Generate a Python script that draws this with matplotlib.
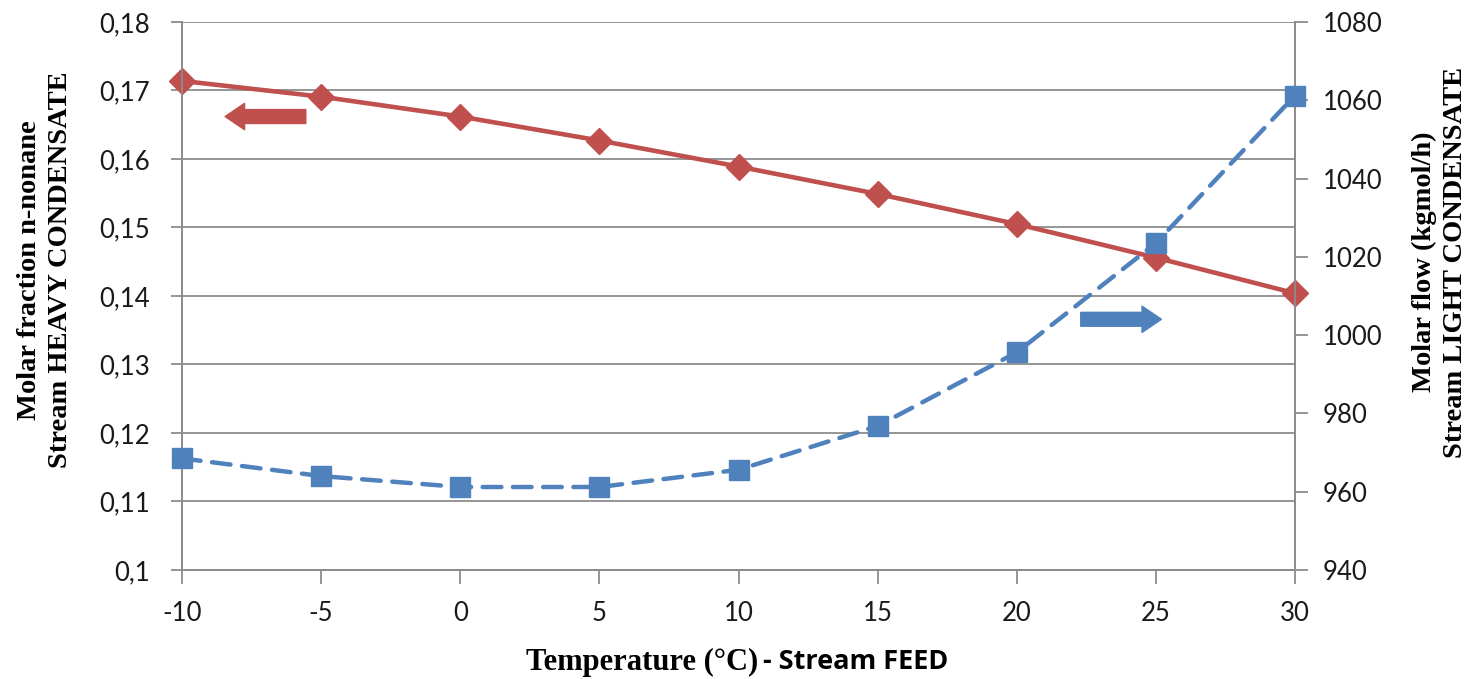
import matplotlib.pyplot as plt
from matplotlib.ticker import FuncFormatter, MultipleLocator

plt.rcParams['axes.unicode_minus'] = False

# data
temperature = [-10, -5, 0, 5, 10, 15, 20, 25, 30]
heavy_nonane = [0.1714, 0.1691, 0.1662, 0.1627, 0.1589, 0.1549, 0.1505, 0.1456, 0.1404]
light_flow = [968.5, 964.0, 961.2, 961.2, 965.6, 976.8, 995.6, 1023.5, 1061.2]

red = '#C0504D'
blue = '#4F81BD'
grid_col = '#8C8C8C'
tick_font = 'Lato'
label_font = 'Liberation Serif'

fig = plt.figure(figsize=(14.83, 6.79), dpi=100)
ax = fig.add_axes([182 / 1483, 1 - 570 / 679, (1295 - 182) / 1483, (570 - 22) / 679])
ax2 = ax.twinx()

ax.plot(temperature, heavy_nonane, color=red, lw=3.3, marker='D', markersize=13,
        zorder=3, clip_on=False)
ax2.plot(temperature, light_flow, color=blue, lw=3.2, ls=(0, (4.2, 2.6)), marker='s',
         markersize=15, zorder=3, clip_on=False, dash_capstyle='round')

ax.set_xlim(-10, 30)
ax.set_ylim(0.10, 0.18)
ax2.set_ylim(940, 1080)
ax.xaxis.set_major_locator(MultipleLocator(5))
ax.yaxis.set_major_locator(MultipleLocator(0.01))
ax2.yaxis.set_major_locator(MultipleLocator(20))
ax.yaxis.set_major_formatter(FuncFormatter(lambda v, p: f'{round(v, 2):g}'.replace('.', ',')))

ax.grid(axis='y', color=grid_col, lw=1.3)
ax.set_axisbelow(True)
for a in (ax, ax2):
    a.spines['top'].set_visible(False)
    for s in ('left', 'right', 'bottom'):
        a.spines[s].set_color(grid_col)
        a.spines[s].set_linewidth(1.3)

ax.tick_params(axis='y', direction='out', length=8, width=1.3, color=grid_col, pad=15,
               labelsize=18.5, labelcolor='#1a1a1a')
ax.tick_params(axis='x', direction='out', length=10, width=1.3, color=grid_col, pad=12,
               labelsize=18.5, labelcolor='#1a1a1a')
ax2.tick_params(axis='y', direction='out', length=9, width=1.3, color=grid_col, pad=11,
                labelsize=18.5, labelcolor='#1a1a1a')
for lab in ax.get_xticklabels() + ax.get_yticklabels() + ax2.get_yticklabels():
    lab.set_fontfamily(tick_font)

# direction arrows
ax.annotate('', xy=(-8.45, 0.1662), xytext=(-5.55, 0.1662),
            arrowprops=dict(arrowstyle='simple,head_length=1.4,head_width=1.9,tail_width=1.0',
                            color=red, mutation_scale=10, shrinkA=0, shrinkB=0))
ax.annotate('', xy=(25.2, 0.1366), xytext=(22.3, 0.1366),
            arrowprops=dict(arrowstyle='simple,head_length=1.4,head_width=1.9,tail_width=1.0',
                            color=blue, mutation_scale=10, shrinkA=0, shrinkB=0))

# axis titles
fig.text(45 / 1483, 1 - 270 / 679, 'Molar fraction n-nonane\nStream HEAVY CONDENSATE',
         rotation=90, ha='center', va='center', multialignment='center',
         fontsize=20.5, fontweight='bold', family=label_font, linespacing=1.3)
fig.text(1440 / 1483, 1 - 262 / 679, 'Molar flow (kgmol/h)\nStream LIGHT CONDENSATE',
         rotation=90, ha='center', va='center', multialignment='center',
         fontsize=20.5, fontweight='bold', family=label_font, linespacing=1.3)
fig.text(758 / 1483, 1 - 662 / 679, 'Temperature (°C)', ha='right', va='center',
         fontsize=22, fontweight='bold', family=label_font)
fig.text(763 / 1483, 1 - 662 / 679, '- Stream FEED', ha='left', va='center',
         fontsize=19.5, fontweight='bold', family='Open Sans')

fig.savefig('out.png', dpi=100)
